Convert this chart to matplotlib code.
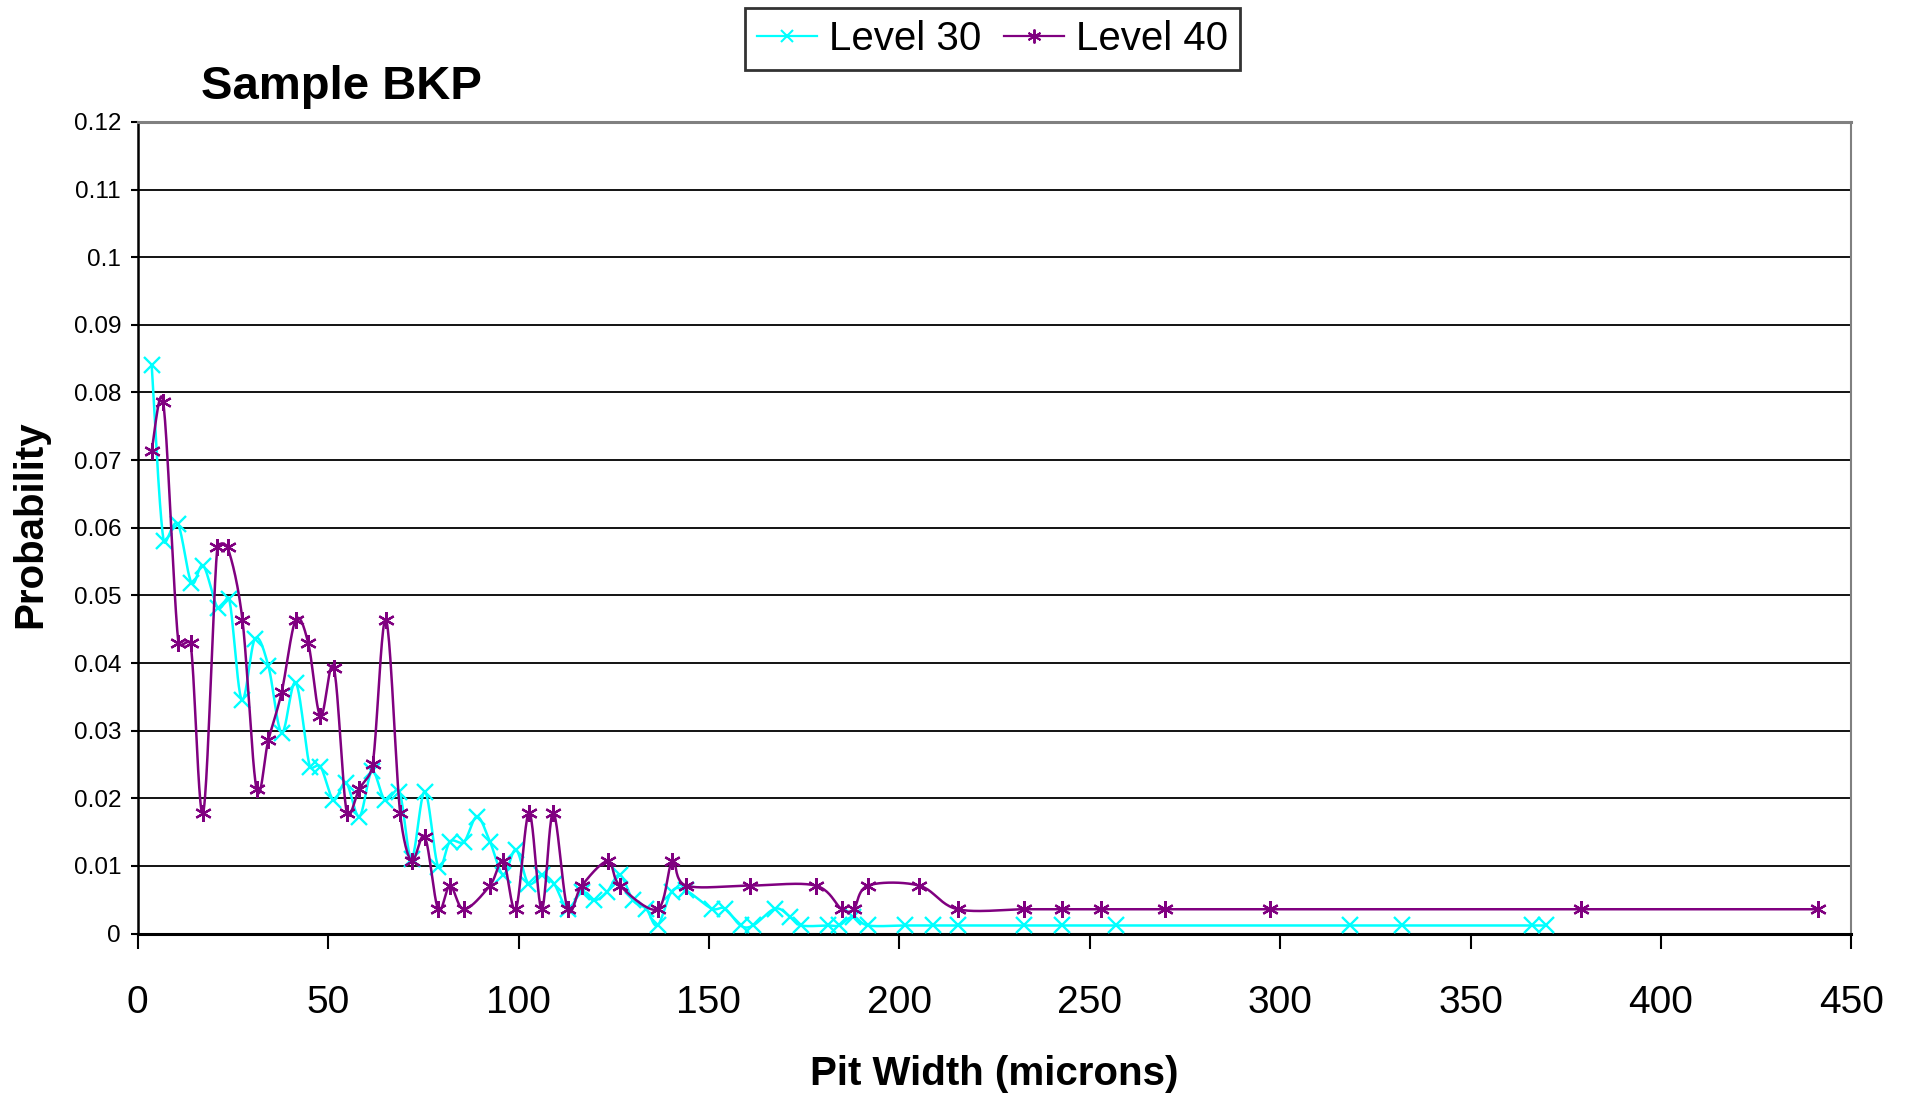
import matplotlib
matplotlib.use("Agg")
import matplotlib.pyplot as plt
from matplotlib.lines import Line2D
import numpy as np

plt.rcParams['font.family'] = ['Liberation Sans', 'DejaVu Sans']

# Level 30 (cyan)
x30 = [3.66, 6.8, 10.5, 14.1, 17.2, 21.0, 24.0, 27.3, 30.8, 34.3, 37.8, 41.5, 45.2, 48.0,
       51.4, 54.7, 58.2, 61.5, 64.9, 68.7, 71.9, 75.4, 78.9, 82.0, 85.7, 89.1, 92.5, 96.0,
       99.3, 102.6, 106.1, 109.3, 112.9, 116.6, 119.8, 123.3, 126.6, 130.1, 133.5, 136.5,
       140.2, 143.9, 150.7, 154.2, 158.3, 161.6, 167.4, 171.3, 174.3, 181.3, 184.2, 187.9,
       191.8, 201.6, 208.9, 215.3, 232.8, 242.8, 256.8, 318.4, 332.0, 366.2, 369.7]
y30 = [0.0841, 0.0581, 0.0606, 0.0519, 0.0544, 0.0482, 0.0495, 0.0346, 0.0436, 0.0396,
       0.0297, 0.0371, 0.0247, 0.0247, 0.0198, 0.0223, 0.0173, 0.0240, 0.0198, 0.0210,
       0.0111, 0.0210, 0.0099, 0.0136, 0.0136, 0.0173, 0.0136, 0.0087, 0.0124, 0.0074,
       0.0087, 0.0074, 0.0037, 0.0062, 0.0049, 0.0062, 0.0087, 0.0049, 0.0037, 0.0012,
       0.0062, 0.0064, 0.0037, 0.0037, 0.0012, 0.0012, 0.0037, 0.0025, 0.0012, 0.0012,
       0.0012, 0.0025, 0.0012, 0.0012, 0.0012, 0.0012, 0.0012, 0.0012, 0.0012, 0.0012,
       0.0012, 0.0012, 0.0012]

# Level 40 (purple)
x40 = [3.66, 6.7, 10.7, 13.9, 17.2, 20.9, 23.6, 27.5, 31.2, 34.3, 37.8, 41.5, 44.8, 48.0,
       51.5, 54.9, 58.2, 61.7, 65.2, 68.9, 71.9, 75.4, 78.9, 82.0, 85.7, 92.5, 96.0, 99.3,
       102.8, 106.1, 109.1, 112.9, 116.6, 123.4, 126.6, 136.5, 140.4, 144.0, 160.7, 178.0,
       184.9, 188.0, 191.8, 205.2, 215.3, 232.8, 242.8, 253.0, 269.7, 297.3, 379.0, 441.3]
y40 = [0.0714, 0.0786, 0.0429, 0.0429, 0.0179, 0.0571, 0.0571, 0.0464, 0.0214, 0.0286,
       0.0357, 0.0464, 0.0429, 0.0321, 0.0393, 0.0179, 0.0214, 0.0250, 0.0464, 0.0179,
       0.0107, 0.0143, 0.0036, 0.0071, 0.0036, 0.0071, 0.0107, 0.0036, 0.0179, 0.0036,
       0.0179, 0.0036, 0.0071, 0.0107, 0.0071, 0.0036, 0.0107, 0.0071, 0.0071, 0.0071,
       0.0036, 0.0036, 0.0071, 0.0071, 0.0036, 0.0036, 0.0036, 0.0036, 0.0036, 0.0036,
       0.0036, 0.0036]

xticks = [0, 50, 100, 150, 200, 250, 300, 350, 400, 450]
yticks = [0, 0.01, 0.02, 0.03, 0.04, 0.05, 0.06, 0.07, 0.08, 0.09, 0.1, 0.11, 0.12]
ytick_labels = ['0', '0.01', '0.02', '0.03', '0.04', '0.05', '0.06', '0.07', '0.08',
                '0.09', '0.1', '0.11', '0.12']

cyan = '#00FFFF'
purple = '#800080'

# rough pixel scale of the plot area, smoothing is done in screen space
PX_X = 3.808
PX_Y = 6764.0


def smooth(x, y, n=24):
    # excel-like smoothed line: cubic bezier, tangents clamped on short segments
    pts = np.column_stack([np.asarray(x) * PX_X, np.asarray(y) * PX_Y])
    out = []
    for i in range(len(pts) - 1):
        p0 = pts[i - 1] if i > 0 else pts[i]
        p1 = pts[i]
        p2 = pts[i + 1]
        p3 = pts[i + 2] if i + 2 < len(pts) else pts[i + 1]
        d12 = np.hypot(*(p2 - p1))
        d02 = np.hypot(*(p2 - p0))
        d13 = np.hypot(*(p3 - p1))
        f1 = 1 / 6
        f2 = 1 / 6
        if d02 / 6 > d12 / 2 and d02 > 0:
            f1 = d12 / (2 * d02)
        if d13 / 6 > d12 / 2 and d13 > 0:
            f2 = d12 / (2 * d13)
        c1 = p1 + (p2 - p0) * f1
        c2 = p2 - (p3 - p1) * f2
        t = np.linspace(0, 1, n)[:, None]
        seg = (1 - t) ** 3 * p1 + 3 * (1 - t) ** 2 * t * c1 + 3 * (1 - t) * t ** 2 * c2 + t ** 3 * p2
        out.append(seg if i == 0 else seg[1:])
    out = np.vstack(out)
    return out[:, 0] / PX_X, out[:, 1] / PX_Y


fig = plt.figure(figsize=(19.11, 10.98), dpi=100)
ax = fig.add_axes([0.07206, 0.14973, 0.89671, 0.73925])

sx, sy = smooth(x30, y30)
ax.plot(sx, sy, color=cyan, lw=1.8, zorder=3)
ax.plot(x30, y30, ls='none', marker='x', ms=11, mew=1.7, color=cyan, zorder=3)

sx, sy = smooth(x40, y40)
ax.plot(sx, sy, color=purple, lw=1.8, zorder=4)
ax.plot(x40, y40, ls='none', marker=(6, 2, 0), ms=12, mew=1.6, color=purple, zorder=4)

ax.set_xlim(0, 450)
ax.set_ylim(0, 0.12)
ax.set_xticks(xticks)
ax.set_yticks(yticks)
ax.set_yticklabels(ytick_labels)
ax.yaxis.grid(True, color='black', lw=1.3)
ax.set_axisbelow(True)

ax.tick_params(axis='x', direction='out', length=11, width=1.5, pad=26, labelsize=28)
ax.tick_params(axis='y', direction='out', length=5, width=1.5, pad=7, labelsize=17.5)

for s in ['left', 'bottom']:
    ax.spines[s].set_color('black')
ax.spines['left'].set_linewidth(1.8)
ax.spines['bottom'].set_linewidth(2.2)
ax.spines['top'].set_color('#808080')
ax.spines['top'].set_linewidth(2.2)
ax.spines['right'].set_color('#808080')
ax.spines['right'].set_linewidth(1.5)

fig.text(0.105, 0.91, 'Sample BKP', fontsize=34, fontweight='bold', ha='left', va='baseline')
fig.text(0.016, 0.5228, 'Probability', fontsize=29, fontweight='bold', rotation=90,
         ha='center', va='center')
fig.text(0.5204, 0.0219, 'Pit Width (microns)', fontsize=29, fontweight='bold',
         ha='center', va='center')

handles = [Line2D([], [], color=cyan, lw=1.6, marker='x', ms=9, mew=1.5),
           Line2D([], [], color=purple, lw=1.6, marker=(6, 2, 0), ms=10, mew=1.4)]
leg = fig.legend(handles, ['Level 30', 'Level 40'], loc='upper center',
                 bbox_to_anchor=(0.5194, 0.993), ncol=2, fontsize=29, frameon=True,
                 fancybox=False, edgecolor='black', handlelength=1.5, handletextpad=0.3,
                 columnspacing=0.55, borderpad=0.3, borderaxespad=0)
leg.get_frame().set_linewidth(2)

plt.savefig('out.png', dpi=100)
